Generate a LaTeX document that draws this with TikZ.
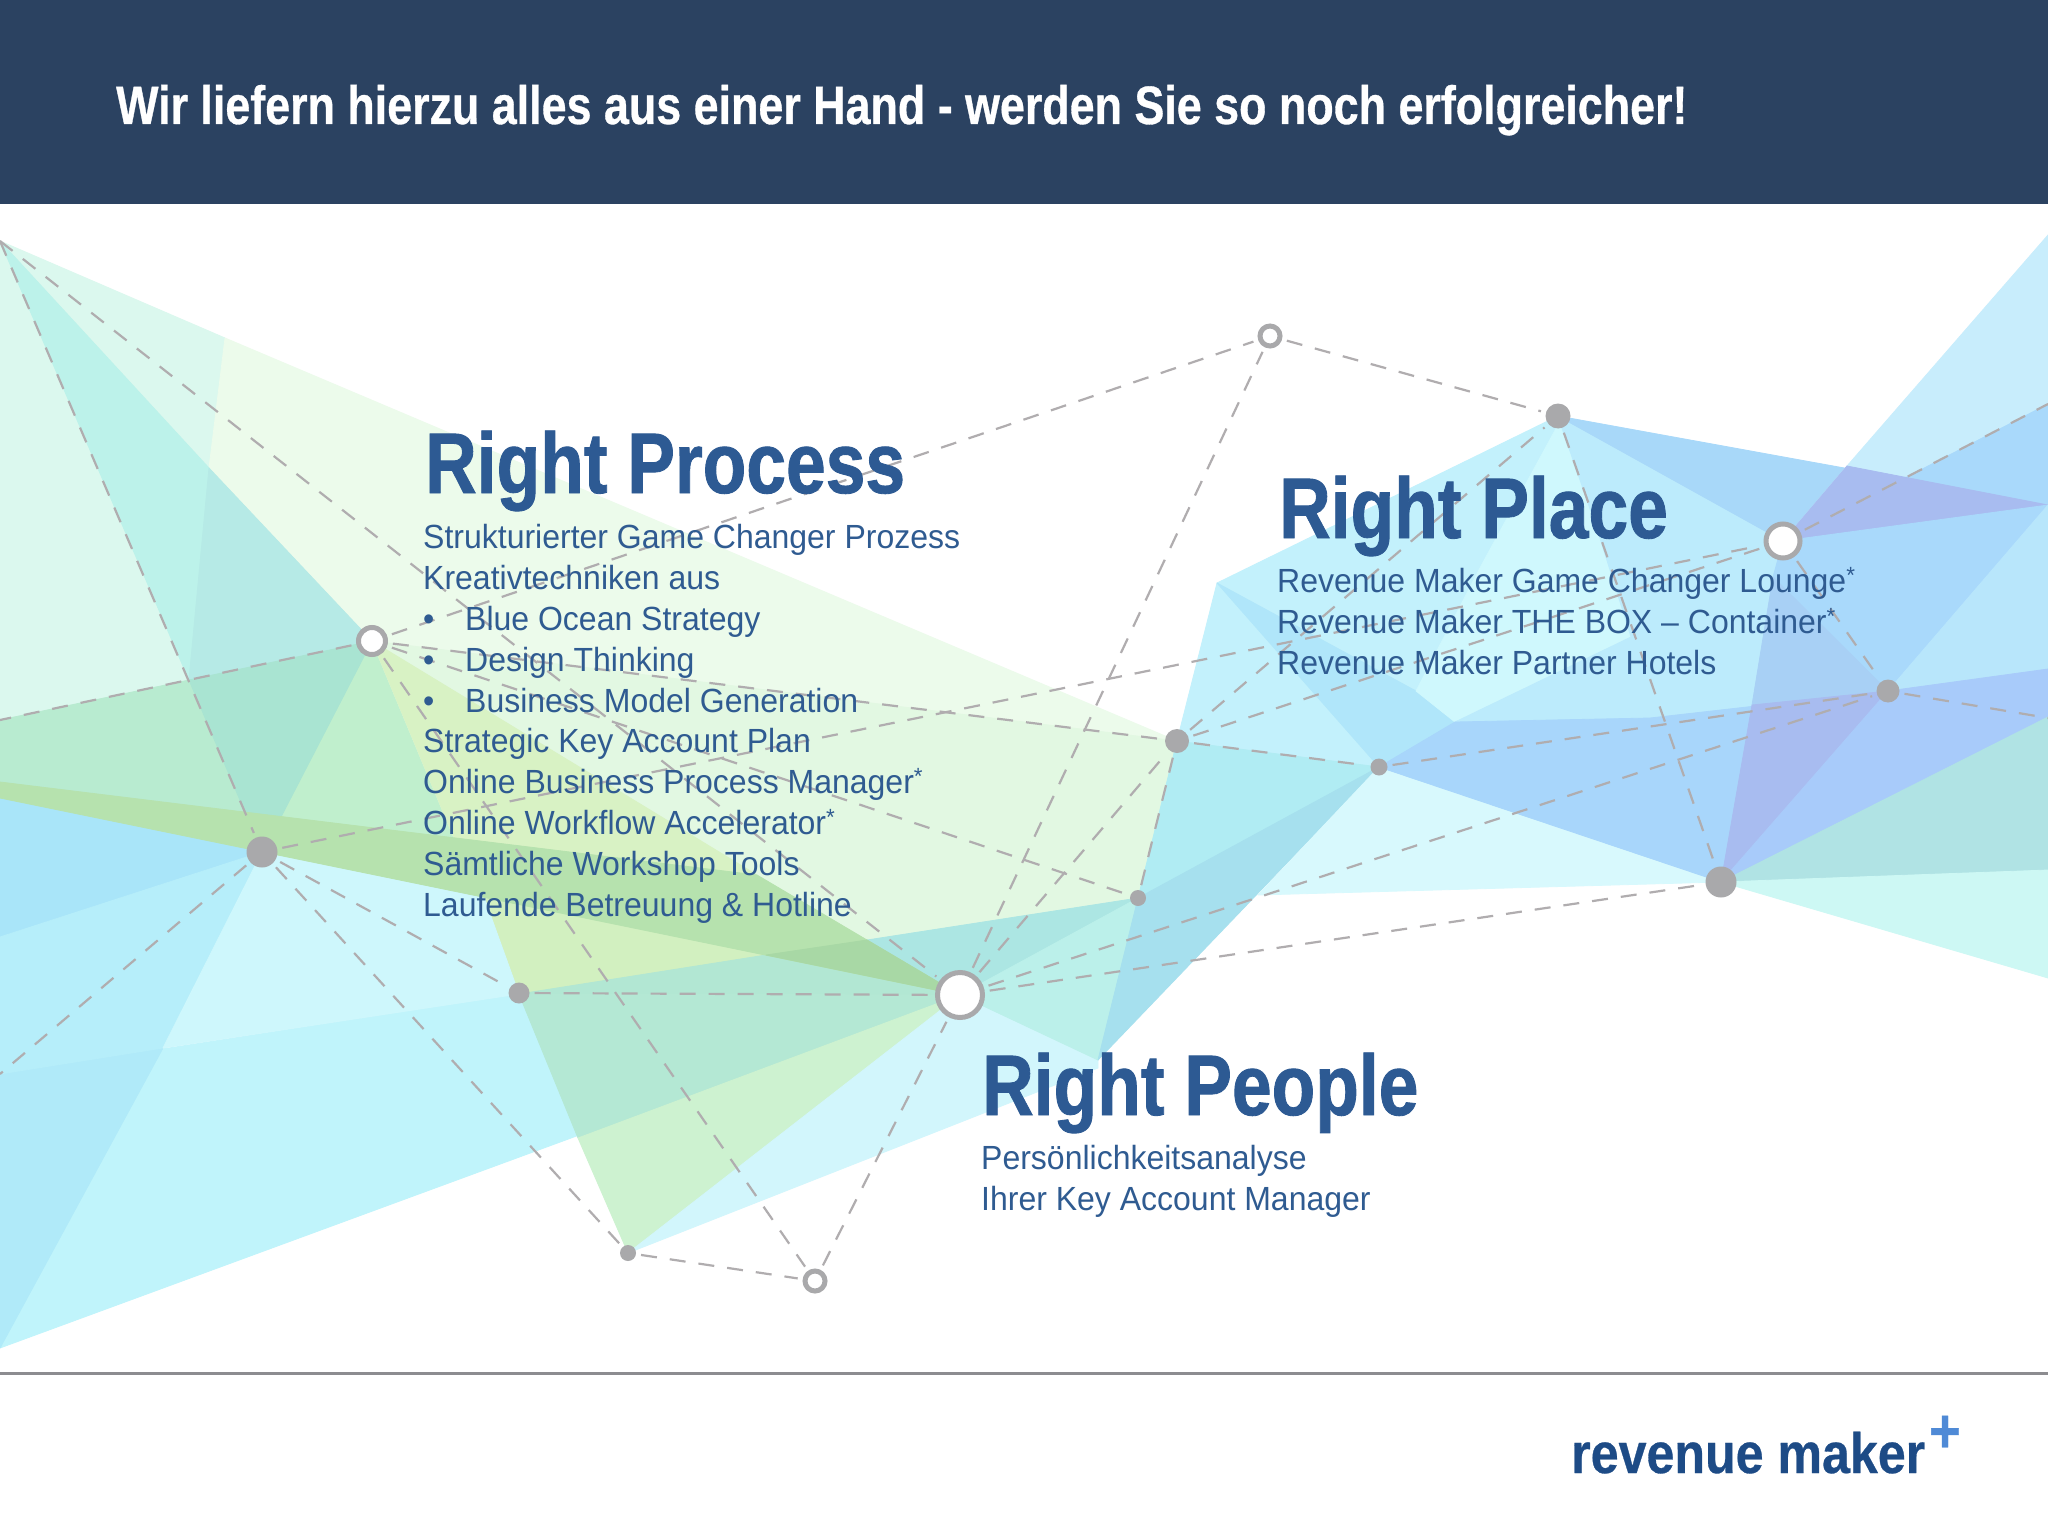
\documentclass[tikz,border=0pt]{standalone}
\usepackage{fontspec}
\setmainfont{Liberation Sans}
\newfontfamily\bodyf[FakeStretch=0.955]{Liberation Sans}
\newfontfamily\headf[FakeStretch=0.83,FakeBold=1]{Liberation Sans}
\newfontfamily\titlef[FakeStretch=0.83,FakeBold=0.6]{Liberation Sans}
\newfontfamily\logof[FakeStretch=0.88,FakeBold=0.5]{Liberation Sans}
\definecolor{barblue}{HTML}{2B4261}
\definecolor{headblue}{HTML}{2D5A93}
\definecolor{textblue}{HTML}{2F5B91}
\definecolor{dashgrey}{HTML}{B0ADAF}
\definecolor{dotgrey}{HTML}{A9A9AB}
\definecolor{rulegrey}{HTML}{8C8C90}
\definecolor{logoblue}{HTML}{1D4B86}
\definecolor{plusblue}{HTML}{4F8AD6}
\newcommand\facet[2]{\definecolor{tmpc}{HTML}{#1}\fill[tmpc,draw=tmpc,line width=0.8pt,line join=round] #2 -- cycle;}
\tikzset{
  link/.style={draw=dashgrey,line width=2.2pt,dash pattern=on 16pt off 13pt,shorten >=5pt,shorten <=5pt},
  freeend/.style={shorten >=0pt},
  dotn/.style={circle,fill=dotgrey,inner sep=0pt,minimum size=#1},
  ringn/.style={circle,draw=dotgrey,fill=white,inner sep=0pt,line width=5pt,minimum size=#1},
  heading/.style={anchor=base west,inner sep=0pt,text=headblue,font=\headf\bfseries\fontsize{86}{90}\selectfont},
  bodytext/.style={anchor=north west,inner sep=0pt,align=left,text=textblue,font=\bodyf\fontsize{33.5}{40.9}\selectfont}
}
\newcommand\bul{\makebox[42pt][l]{•}}
\begin{document}
\begin{tikzpicture}[x=1pt,y=-1pt]
\useasboundingbox (0,0) rectangle (2048,1536);
\fill[white] (0,0) rectangle (2048,1536);
% ---------- left facets
\facet{DBF8EE}{(0,241) -- (225,338) -- (189,680) -- (0,720)}
\facet{ECFBEB}{(225,338) -- (1177,741) -- (372,641) -- (209,468)}
\facet{BCF2EA}{(0,241) -- (209,468) -- (189,680)}
\facet{B6EAE6}{(209,468) -- (372,641) -- (189,680)}
\facet{B8EBD0}{(0,720) -- (189,680) -- (262,852) -- (0,782)}
\facet{C0EFCD}{(372,641) -- (520,994) -- (262,852)}
\facet{A9E4D2}{(189,680) -- (372,641) -- (282,815) -- (262,852)}
\facet{E2F8E2}{(372,641) -- (1177,741) -- (1138,898) -- (519,994)}
\facet{D8F2C4}{(372,641) -- (757,875) -- (519,994)}
\facet{D2F0C0}{(484,897) -- (766,955) -- (519,994)}
% lower-left cyan
\facet{C0F4FB}{(0,1074) -- (519,994) -- (960,995) -- (0,1348)}
\facet{B0EAF9}{(0,1074) -- (163,1048) -- (0,1348)}
\facet{A9E5F9}{(0,798) -- (262,852) -- (0,937)}
\facet{B6EEFA}{(0,937) -- (262,852) -- (163,1048) -- (0,1074)}
\facet{CEF7FC}{(262,852) -- (484,897) -- (519,994) -- (163,1048)}
% green centre
\facet{B2E7D3}{(519,994) -- (766,955) -- (960,995)}
\facet{B4E8D4}{(519,994) -- (960,995) -- (578,1138)}
\facet{CDF2D0}{(578,1138) -- (960,995) -- (628,1253)}
\facet{D2F6FC}{(960,995) -- (1098,1060) -- (1098,1068) -- (628,1253)}
\facet{ACE6E3}{(867,940) -- (1138,898) -- (960,995)}
\facet{BBF0EA}{(960,995) -- (1138,898) -- (1098,1060)}
\facet{B6E2AE}{(0,782) -- (757,875) -- (960,995) -- (0,798)}
\facet{A8D8A5}{(867,940) -- (960,995) -- (766,955)}
% ---------- right facets
\facet{C3F1FC}{(1217,583) -- (1558,416) -- (1783,541) -- (1888,691) -- (1721,882) -- (1379,767) -- (1177,741)}
\facet{B0ECF3}{(1177,741) -- (1379,767) -- (1138,898)}
\facet{A6E0EE}{(1379,767) -- (1098,1060) -- (1138,898)}
\facet{D8F9FD}{(1379,767) -- (1721,882) -- (1258,895)}
\facet{B0E6FA}{(1217,583) -- (1416,691) -- (1455,722) -- (1379,767)}
\facet{CFF8FD}{(1416,691) -- (1481,566) -- (1559,423) -- (1599,535) -- (1631,637) -- (1455,722)}
\facet{BCEBFC}{(1558,416) -- (1783,541) -- (1773,577) -- (1721,882) -- (1670,716) -- (1631,637) -- (1599,535)}
\facet{BCEBFC}{(1631,637) -- (1773,577) -- (1752,705) -- (1650,718) -- (1455,722)}
\facet{A8D6FB}{(1379,767) -- (1455,722) -- (1650,718) -- (1888,691) -- (1721,882)}
\facet{A8D8F9}{(1558,416) -- (2048,505) -- (1783,541)}
\facet{C8EDFC}{(2048,235) -- (1847,466) -- (1783,541) -- (2048,404)}
\facet{A9D9FB}{(2048,404) -- (1783,541) -- (2048,505)}
\facet{A8BCF0}{(1847,466) -- (2048,505) -- (1783,541)}
\facet{A9D9FB}{(1783,541) -- (2048,505) -- (1888,691) -- (1773,577)}
\facet{B8E6FB}{(2048,505) -- (2048,669) -- (1888,691)}
\facet{A8D0F5}{(1773,577) -- (1888,691) -- (1752,705)}
\facet{A8BCF0}{(1752,705) -- (1888,691) -- (1721,882)}
\facet{A8CBFA}{(1888,691) -- (2048,669) -- (2048,717) -- (1721,882)}
\facet{B0E3E4}{(1721,882) -- (2048,717) -- (2048,870)}
\facet{CDF8F4}{(1721,882) -- (2048,870) -- (2048,978)}
% ---------- bar and rule
\fill[barblue] (0,0) rectangle (2048,204);
\draw[rulegrey,line width=3pt] (0,1373) -- (2048,1373);
% ---------- network nodes
\coordinate (tl) at (0,241);
\coordinate (ledge) at (0,720);
\coordinate (lowl) at (0,1074);
\coordinate (redgeA) at (2048,404);
\coordinate (redgeB) at (2048,718);
\node[ringn=27pt] (a) at (372,641) {};
\node[dotn=31pt] (b) at (262,852) {};
\node[dotn=21pt] (c) at (519,993) {};
\node[ringn=45pt] (hub) at (960,995) {};
\node[dotn=16pt] (d) at (628,1253) {};
\node[ringn=20pt] (e) at (815,1281) {};
\node[ringn=20pt] (f) at (1270,336) {};
\node[dotn=25pt] (g) at (1558,416) {};
\node[ringn=34pt] (h) at (1783,541) {};
\node[dotn=23pt] (i) at (1888,691) {};
\node[dotn=31pt] (j) at (1721,882) {};
\node[dotn=17pt] (k) at (1379,767) {};
\node[dotn=24pt] (l) at (1177,741) {};
\node[dotn=16pt] (m) at (1138,898) {};
% ---------- connectors
\draw[link,shorten <=0pt] (tl) -- (b);
\draw[link,shorten <=0pt] (tl) -- (hub);
\draw[link,freeend] (a) -- (ledge);
\draw[link] (a) -- (f);
\draw[link] (a) -- (l);
\draw[link] (a) -- (m);
\draw[link] (a) -- (e);
\draw[link] (b) -- (h);
\draw[link,freeend] (b) -- (lowl);
\draw[link] (b) -- (c);
\draw[link] (b) -- (d);
\draw[link] (c) -- (hub);
\draw[link] (d) -- (e);
\draw[link] (e) -- (hub);
\draw[link] (hub) -- (f);
\draw[link] (hub) -- (l);
\draw[link] (hub) -- (j);
\draw[link] (hub) -- (i);
\draw[link] (m) -- (l);
\draw[link] (l) -- (k);
\draw[link] (l) -- (g);
\draw[link] (l) -- (h);
\draw[link] (k) -- (i);
\draw[link] (f) -- (g);
\draw[link] (g) -- (j);
\draw[link] (h) -- (i);
\draw[link,freeend] (h) -- (redgeA);
\draw[link,freeend] (i) -- (redgeB);
% ---------- texts
\node[anchor=base west,inner sep=0pt,text=white,font=\titlef\bfseries\fontsize{54}{60}\selectfont] (title) at (116,124) {Wir liefern hierzu alles aus einer Hand - werden Sie so noch erfolgreicher!};
\node[heading] (h1) at (425,493) {Right Process};
\node[heading] (h2) at (1279,538) {Right Place};
\node[heading] (h3) at (982,1115) {Right People};
\node[bodytext] (t1) at (423,524) {Strukturierter Game Changer Prozess\\
Kreativtechniken aus\\
\bul Blue Ocean Strategy\\
\bul Design Thinking\\
\bul Business Model Generation\\
Strategic Key Account Plan\\
Online Business Process Manager\textsuperscript{*}\\
Online Workflow Accelerator\textsuperscript{*}\\
Sämtliche Workshop Tools\\
Laufende Betreuung \& Hotline};
\node[bodytext] (t2) at (1277,567) {Revenue Maker Game Changer Lounge\textsuperscript{*}\\
Revenue Maker THE BOX – Container\textsuperscript{*}\\
Revenue Maker Partner Hotels};
\node[bodytext] (t3) at (981,1145) {Persönlichkeitsanalyse\\
Ihrer Key Account Manager};
\node[anchor=base west,inner sep=0pt,text=logoblue,font=\logof\bfseries\fontsize{57}{64}\selectfont] (logo) at (1571,1473) {revenue maker};
\node[anchor=center,inner sep=0pt,text=plusblue,font=\logof\bfseries\fontsize{62}{64}\selectfont] (plus) at (1945,1434) {+};
\end{tikzpicture}
\end{document}
